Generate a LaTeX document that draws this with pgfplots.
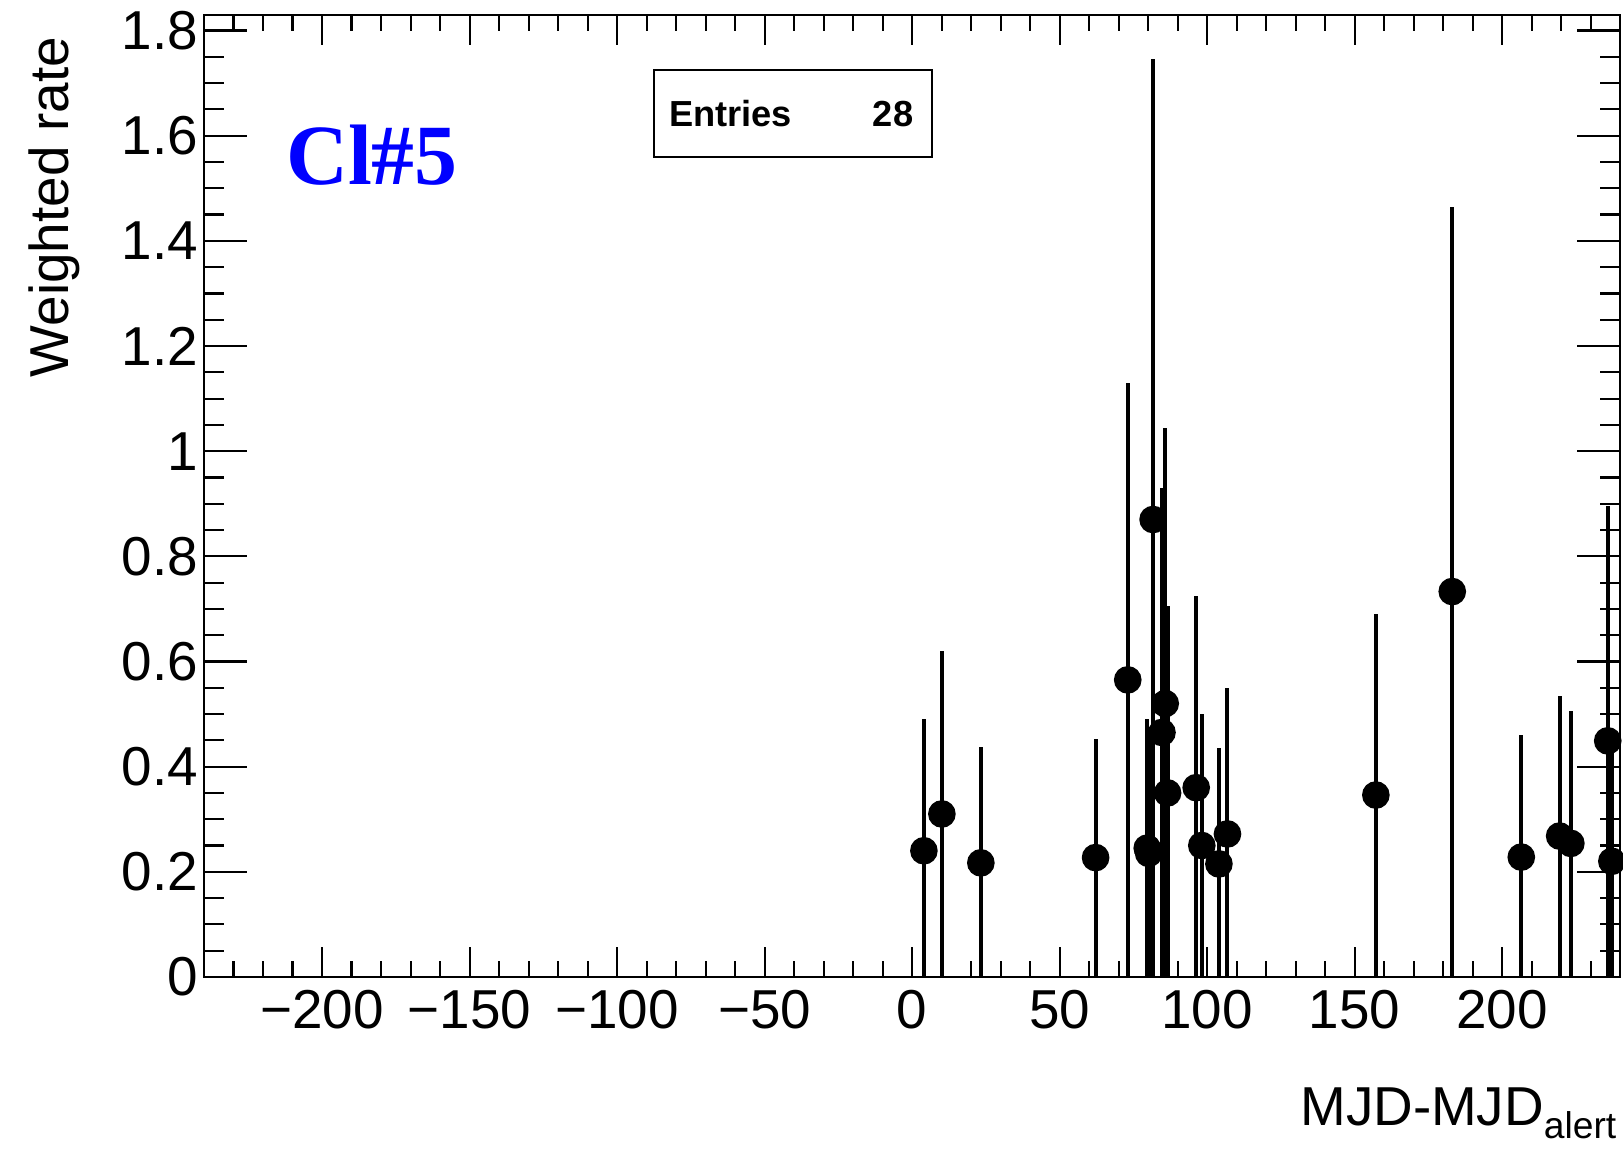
\documentclass[border=0pt]{standalone}
\usepackage{fontspec}
\setmainfont{Liberation Sans}
\newfontfamily\serifbold{Liberation Serif}
\usepackage{pgfplots}
\usepackage{pgfplotstable}
\pgfplotsset{compat=1.18}

% x  y  err+  err-
\pgfplotstableread{
x     y      ep     em
4.0   0.240  0.250  0.240
10.1  0.310  0.310  0.310
23.3  0.217  0.220  0.217
62.2  0.227  0.226  0.227
73.1  0.565  0.565  0.565
79.7  0.245  0.245  0.245
80.2  0.235  0.235  0.235
81.7  0.870  0.875  0.870
84.7  0.465  0.465  0.465
85.8  0.520  0.525  0.520
86.6  0.350  0.355  0.350
96.3  0.360  0.365  0.360
98.2  0.250  0.250  0.250
104.0 0.215  0.220  0.215
106.9 0.272  0.278  0.272
157.2 0.346  0.344  0.346
183.1 0.733  0.732  0.733
206.5 0.228  0.232  0.228
219.5 0.268  0.266  0.268
223.3 0.254  0.251  0.254
235.8 0.449  0.446  0.449
237.2 0.220  0.220  0.220
}\cldata

\begin{document}
\begin{tikzpicture}
\pgfplotsset{
  rootframe/.style={
    scale only axis,
    width=297pt, height=201.8pt,
    xmin=-240, xmax=240, ymin=0, ymax=1.83,
    axis line style={line width=0.5pt},
    tick align=inside,
    tick style={line width=0.45pt, black},
    ticklabel style={font=\fontsize{11.5}{13}\selectfont},
  },
}
\begin{axis}[
  rootframe,
  name=ax,
  xtick={-200,-150,-100,-50,0,50,100,150,200},
  xticklabels={−200,−150,−100,−50,0,50,100,150,200},
  minor xtick={-230,-220,-210,-190,-180,-170,-160,-140,-130,-120,-110,-90,-80,-70,-60,-40,-30,-20,-10,10,20,30,40,60,70,80,90,110,120,130,140,160,170,180,190,210,220,230},
  ytick=\empty,
  major tick length=6.3pt,
  minor tick length=3.4pt,
  xticklabel style={yshift=0.7pt},
]
\addplot[only marks, mark=*, mark size=2.7pt, black,
  error bars/.cd, y dir=both, y explicit,
  error mark=none, error bar style={line width=0.85pt, black}]
  table[x=x, y=y, y error plus=ep, y error minus=em] {\cldata};

\node[anchor=base west, inner sep=0, text=blue,
  font=\serifbold\bfseries\fontsize{18}{20}\selectfont]
  at (axis cs:-212.5,1.508) {Cl\#5};

\draw[line width=0.5pt, fill=white] (axis cs:-87.5,1.56) rectangle (axis cs:6.8,1.725);
\node[anchor=base west, inner sep=0, font=\bfseries\fontsize{7.6}{9}\selectfont]
  at (axis cs:-82.7,1.617) {Entries};
\node[anchor=base east, inner sep=0, font=\bfseries\fontsize{7.6}{9}\selectfont]
  at (axis cs:0.7,1.617) {28};
\end{axis}

\begin{axis}[
  rootframe,
  xtick=\empty,
  ytick={0,0.2,0.4,0.6,0.8,1,1.2,1.4,1.6,1.8},
  yticklabels={0,0.2,0.4,0.6,0.8,1,1.2,1.4,1.6,1.8},
  minor ytick={0.05,0.1,0.15,0.25,0.3,0.35,0.45,0.5,0.55,0.65,0.7,0.75,0.85,0.9,0.95,1.05,1.1,1.15,1.25,1.3,1.35,1.45,1.5,1.55,1.65,1.7,1.75},
  major tick length=9pt,
  minor tick length=4.2pt,
  yticklabel style={xshift=2.3pt},
]
\end{axis}

\node[rotate=90, anchor=base east, inner sep=0, font=\fontsize{11.5}{13}\selectfont]
  at ([xshift=-28.5pt,yshift=-4.4pt]ax.north west) {Weighted rate};
\node[anchor=base east, inner sep=0, font=\fontsize{11.5}{13}\selectfont]
  at ([xshift=-0.6pt,yshift=-31.2pt]ax.south east)
  {MJD-MJD\raisebox{-2.6pt}{\fontsize{7.8}{9}\selectfont alert}};

\pgfresetboundingbox
\path[use as bounding box] ([xshift=-42.8pt,yshift=-36.7pt]ax.south west)
  rectangle ([xshift=0.6pt,yshift=3.1pt]ax.north east);
\end{tikzpicture}
\end{document}
